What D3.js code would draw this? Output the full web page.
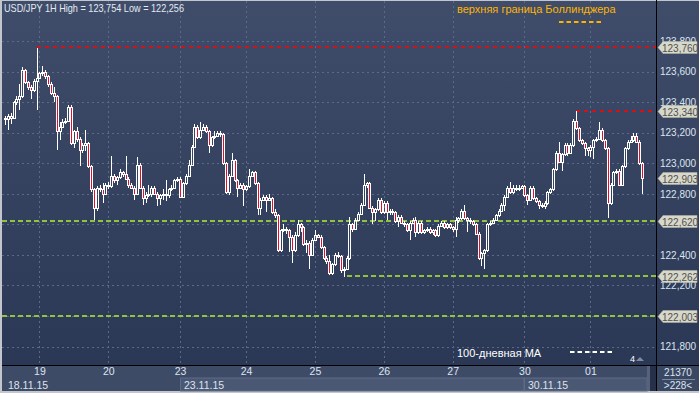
<!DOCTYPE html>
<html>
<head>
<meta charset="utf-8">
<script src="https://cdn.jsdelivr.net/npm/d3@7"></script>
<style>
  body { margin: 0; background: #c3c6cc; }
  svg { display: block; font-family: "Liberation Sans", Arial, sans-serif; }
</style>
</head>
<body>
<div id="chart"></div>
<script>
// USD/JPY 1H candles, [open, high, low, close]
var candles = [
  [123.30,123.31,123.25,123.29],[123.29,123.32,123.22,123.31],[123.31,123.33,123.26,123.30],[123.30,123.41,123.29,123.40],
  [123.40,123.44,123.38,123.42],[123.42,123.52,123.35,123.44],[123.44,123.63,123.43,123.61],[123.61,123.62,123.52,123.53],
  [123.53,123.54,123.48,123.50],[123.50,123.51,123.42,123.48],[123.48,123.55,123.47,123.54],[123.54,123.754,123.35,123.56],
  [123.56,123.60,123.55,123.59],[123.59,123.64,123.57,123.60],[123.60,123.61,123.55,123.57],[123.57,123.58,123.50,123.52],
  [123.52,123.53,123.45,123.46],[123.46,123.50,123.40,123.44],[123.44,123.45,123.09,123.21],[123.21,123.27,123.15,123.24],
  [123.24,123.29,123.23,123.27],[123.27,123.30,123.26,123.28],[123.28,123.38,123.27,123.37],[123.37,123.38,123.12,123.13],
  [123.13,123.22,123.10,123.21],[123.21,123.24,123.14,123.16],[123.16,123.17,122.98,123.09],[123.09,123.13,123.07,123.12],
  [123.12,123.22,123.08,123.13],[123.13,123.14,122.97,122.98],[122.98,122.99,122.81,122.83],[122.83,122.84,122.63,122.71],
  [122.71,122.85,122.69,122.84],[122.84,122.86,122.81,122.83],[122.83,122.87,122.74,122.80],[122.80,122.87,122.79,122.86],
  [122.86,122.88,122.83,122.85],[122.85,123.05,122.84,122.92],[122.92,122.93,122.87,122.89],[122.89,122.92,122.86,122.91],
  [122.91,122.96,122.90,122.94],[122.94,122.95,122.91,122.93],[122.93,123.05,122.89,122.90],[122.90,122.91,122.84,122.86],
  [122.86,122.87,122.83,122.84],[122.84,122.85,122.76,122.80],[122.80,123.04,122.79,122.99],[122.99,123.00,122.83,122.84],
  [122.84,122.85,122.73,122.77],[122.77,122.81,122.74,122.79],[122.79,122.86,122.78,122.80],[122.80,122.85,122.78,122.84],
  [122.84,122.85,122.79,122.80],[122.80,122.81,122.72,122.77],[122.77,122.80,122.73,122.79],[122.79,122.83,122.76,122.80],
  [122.80,122.89,122.75,122.79],[122.79,122.84,122.77,122.83],[122.83,122.86,122.82,122.84],[122.84,122.90,122.83,122.89],
  [122.89,122.91,122.88,122.90],[122.90,122.91,122.77,122.78],[122.78,122.88,122.77,122.87],[122.87,122.93,122.86,122.92],
  [122.92,123.02,122.91,122.99],[122.99,123.12,122.98,123.11],[123.11,123.26,123.10,123.24],[123.24,123.25,123.16,123.17],
  [123.17,123.27,123.16,123.22],[123.22,123.26,123.21,123.24],[123.24,123.25,123.20,123.21],[123.21,123.22,123.07,123.12],
  [123.12,123.18,123.11,123.17],[123.17,123.21,123.16,123.18],[123.18,123.21,123.17,123.20],[123.20,123.21,123.17,123.19],
  [123.19,123.20,122.99,123.00],[123.00,123.01,122.80,122.81],[122.81,122.93,122.79,122.92],[122.92,123.07,122.91,123.02],
  [123.02,123.03,122.88,122.89],[122.89,122.90,122.78,122.84],[122.84,122.87,122.83,122.86],[122.86,122.87,122.72,122.83],
  [122.83,122.86,122.82,122.85],[122.85,122.96,122.84,122.92],[122.92,122.95,122.91,122.94],[122.94,122.95,122.86,122.87],
  [122.87,122.88,122.66,122.71],[122.71,122.77,122.66,122.76],[122.76,122.79,122.75,122.78],[122.78,122.79,122.68,122.76],
  [122.76,122.80,122.75,122.77],[122.77,122.78,122.67,122.68],[122.68,122.70,122.64,122.66],[122.66,122.67,122.42,122.43],
  [122.43,122.57,122.42,122.56],[122.56,122.60,122.55,122.57],[122.57,122.58,122.54,122.56],[122.56,122.57,122.42,122.52],
  [122.52,122.53,122.35,122.43],[122.43,122.55,122.42,122.53],[122.53,122.63,122.52,122.60],[122.60,122.61,122.55,122.58],
  [122.58,122.59,122.46,122.47],[122.47,122.50,122.41,122.48],[122.48,122.49,122.31,122.40],[122.40,122.51,122.39,122.50],
  [122.50,122.56,122.49,122.53],[122.53,122.54,122.51,122.52],[122.52,122.53,122.44,122.45],[122.45,122.46,122.37,122.38],
  [122.38,122.39,122.34,122.36],[122.36,122.40,122.27,122.28],[122.28,122.35,122.27,122.34],[122.34,122.41,122.33,122.40],
  [122.40,122.42,122.38,122.39],[122.39,122.40,122.28,122.30],[122.30,122.32,122.256,122.31],[122.31,122.39,122.30,122.38],
  [122.38,122.65,122.37,122.60],[122.60,122.61,122.55,122.57],[122.57,122.64,122.56,122.63],[122.63,122.68,122.62,122.67],
  [122.67,122.74,122.66,122.73],[122.73,122.93,122.72,122.86],[122.86,122.88,122.84,122.87],[122.87,122.88,122.70,122.71],
  [122.71,122.72,122.60,122.68],[122.68,122.71,122.62,122.70],[122.70,122.77,122.69,122.76],[122.76,122.77,122.67,122.68],
  [122.68,122.75,122.67,122.74],[122.74,122.75,122.63,122.68],[122.68,122.70,122.66,122.69],[122.69,122.70,122.66,122.68],
  [122.68,122.69,122.61,122.62],[122.62,122.66,122.58,122.65],[122.65,122.66,122.60,122.61],[122.61,122.62,122.58,122.60],
  [122.60,122.61,122.55,122.56],[122.56,122.62,122.50,122.61],[122.61,122.64,122.60,122.63],[122.63,122.65,122.52,122.55],
  [122.55,122.62,122.54,122.61],[122.61,122.62,122.54,122.55],[122.55,122.57,122.54,122.56],[122.56,122.58,122.55,122.57],
  [122.57,122.58,122.54,122.55],[122.55,122.57,122.53,122.56],[122.56,122.57,122.52,122.53],[122.53,122.60,122.52,122.59],
  [122.59,122.62,122.58,122.61],[122.61,122.62,122.57,122.58],[122.58,122.61,122.57,122.60],[122.60,122.61,122.57,122.58],
  [122.58,122.59,122.55,122.57],[122.57,122.65,122.52,122.63],[122.63,122.65,122.61,122.64],[122.64,122.70,122.63,122.69],
  [122.69,122.73,122.63,122.64],[122.64,122.65,122.55,122.63],[122.63,122.64,122.60,122.62],[122.62,122.63,122.59,122.60],
  [122.60,122.61,122.53,122.54],[122.54,122.55,122.37,122.38],[122.38,122.42,122.33,122.41],[122.41,122.44,122.31,122.43],
  [122.43,122.61,122.42,122.60],[122.60,122.62,122.59,122.61],[122.61,122.64,122.60,122.63],[122.63,122.67,122.62,122.66],
  [122.66,122.70,122.65,122.69],[122.69,122.74,122.68,122.73],[122.73,122.79,122.69,122.78],[122.78,122.85,122.77,122.84],
  [122.84,122.88,122.80,122.81],[122.81,122.86,122.80,122.84],[122.84,122.86,122.82,122.83],[122.83,122.86,122.82,122.84],
  [122.84,122.86,122.83,122.85],[122.85,122.86,122.78,122.79],[122.79,122.80,122.73,122.76],[122.76,122.85,122.75,122.84],
  [122.84,122.85,122.76,122.77],[122.77,122.78,122.74,122.75],[122.75,122.76,122.70,122.73],[122.73,122.74,122.71,122.72],
  [122.72,122.75,122.70,122.74],[122.74,122.82,122.73,122.81],[122.81,122.84,122.80,122.83],[122.83,122.97,122.82,122.96],
  [122.96,123.08,122.95,123.07],[123.07,123.14,123.00,123.01],[123.01,123.07,122.95,123.06],[123.06,123.13,123.05,123.12],
  [123.12,123.13,123.05,123.07],[123.07,123.13,123.06,123.12],[123.12,123.29,123.11,123.28],[123.28,123.34,123.22,123.23],
  [123.23,123.24,123.14,123.15],[123.15,123.16,123.12,123.13],[123.13,123.14,123.05,123.10],[123.10,123.11,123.05,123.09],
  [123.09,123.12,123.04,123.11],[123.11,123.16,123.03,123.15],[123.15,123.17,123.14,123.16],[123.16,123.27,123.15,123.22],
  [123.22,123.23,123.14,123.15],[123.15,123.16,123.09,123.10],[123.10,123.11,122.64,122.74],[122.74,122.87,122.73,122.86],
  [122.86,122.95,122.85,122.94],[122.94,122.96,122.93,122.95],[122.95,122.96,122.85,122.86],[122.86,122.99,122.85,122.98],
  [122.98,123.11,122.97,123.10],[123.10,123.15,123.09,123.14],[123.14,123.18,123.13,123.15],[123.15,123.20,123.14,123.18],
  [123.18,123.20,123.13,123.14],[123.14,123.15,122.99,123.00],[123.00,123.01,122.80,122.903]
];

var dayIdx = [12, 36, 61, 84, 108, 132, 156, 181, 204];
var dayLabels = ["19", "20", "23", "24", "25", "26", "27", "30", "01"];
var weekIdx = [0, 61, 181];
var weekLabels = ["18.11.15", "23.11.15", "30.11.15"];
var gridTicks = [121.8, 122.0, 122.2, 122.4, 122.6, 122.8, 123.0, 123.2, 123.4, 123.6, 123.8];
// labels that stay visible beside the tags
var priceLabels = [121.8, 122.2, 122.4, 122.8, 123.0, 123.2, 123.4, 123.6, 123.8];

// support / resistance levels and the bar they start from
var levelPrices = [123.760, 123.340, 122.620, 122.262, 122.003];
var levelFrom = [11, 199, -2, 119, -2];
var levelKind = ["red", "red", "green", "green", "green"];

var legendNames = ["верхняя граница Боллинджера", "100-дневная МА"];
var barsTotal = "21370";
var barsVisible = ">228<";

var W = 699, H = 393;
var plot = { left: 2, right: 656, top: 1, bottom: 365 };

var fmt = function (v) { return d3.format(".3f")(v).replace(".", ","); };

var x = d3.scaleLinear().domain([0, candles.length - 1]).range([5, 642.1]);
var y = d3.scaleLinear().domain([122.0, 123.6]).range([316.0, 71.7]);

var svg = d3.select("#chart").append("svg")
  .attr("width", W)
  .attr("height", H);

var defs = svg.append("defs");
var grad = defs.append("linearGradient").attr("id", "bg")
  .attr("x1", 0).attr("y1", 0).attr("x2", 0).attr("y2", 1);
grad.append("stop").attr("offset", "0%").attr("stop-color", "#3f4d6a");
grad.append("stop").attr("offset", "100%").attr("stop-color", "#2b3855");

// frame + panels
svg.append("rect").attr("width", W).attr("height", H).attr("fill", "#c3c6cc");
svg.append("rect").attr("x", plot.left).attr("y", plot.top)
  .attr("width", plot.right - plot.left).attr("height", plot.bottom - plot.top)
  .attr("fill", "url(#bg)");
svg.append("rect").attr("x", plot.right + 1).attr("y", plot.top)
  .attr("width", W - plot.right - 1).attr("height", plot.bottom - plot.top)
  .attr("fill", "url(#bg)");

// bottom strip
svg.append("rect").attr("x", plot.left).attr("y", 366).attr("width", plot.right - plot.left).attr("height", 25).attr("fill", "#3e4b67");
svg.append("rect").attr("x", plot.right + 1).attr("y", 366).attr("width", W - plot.right - 1).attr("height", 25).attr("fill", "#3a4763");

var weekG = svg.append("g");
weekIdx.forEach(function (d, i) {
  if (i === 0) return;
  var x0 = Math.round(x(d)) + 0.5;
  var x1 = i < weekIdx.length - 1 ? Math.round(x(weekIdx[i + 1])) : 647;
  weekG.append("rect").attr("x", x0).attr("y", 378).attr("width", x1 - x0).attr("height", 13)
    .attr("fill", "#4b5874").attr("stroke", "#5e6b88").attr("stroke-width", 1);
});
weekIdx.forEach(function (d, i) {
  weekG.append("text")
    .attr("x", i === 0 ? 8 : Math.round(x(d)) + 4)
    .attr("y", 389)
    .attr("fill", "#dde3ee").attr("font-size", "10.5px")
    .text(weekLabels[i]);
});
svg.append("rect").attr("x", 647).attr("y", 366).attr("width", 3).attr("height", 25).attr("fill", "#56627c");
svg.append("rect").attr("x", 650).attr("y", 366).attr("width", 6).attr("height", 25).attr("fill", "#263149");

// grid
var grid = svg.append("g").attr("stroke", "#5c6a88").attr("stroke-width", 1).attr("stroke-dasharray", "2,3");
grid.selectAll("line.h").data(gridTicks).enter().append("line")
  .attr("x1", plot.left).attr("x2", plot.right)
  .attr("y1", function (d) { return Math.round(y(d)) + 0.5; })
  .attr("y2", function (d) { return Math.round(y(d)) + 0.5; });
grid.selectAll("line.v").data(dayIdx).enter().append("line")
  .attr("y1", plot.top).attr("y2", plot.bottom)
  .attr("x1", function (d) { return Math.round(x(d)) + 0.5; })
  .attr("x2", function (d) { return Math.round(x(d)) + 0.5; });

// levels
var levelColor = { red: "#d4101c", green: "#8fc43f" };
var levelDash = { red: "4,4", green: "5,3" };
svg.append("g").attr("shape-rendering", "crispEdges")
  .selectAll("line").data(levelPrices).enter().append("line")
  .attr("x1", function (d, i) { return Math.max(plot.left, x(levelFrom[i])); })
  .attr("x2", plot.right)
  .attr("y1", function (d) { return Math.round(y(d)); })
  .attr("y2", function (d) { return Math.round(y(d)); })
  .attr("stroke", function (d, i) { return levelColor[levelKind[i]]; })
  .attr("stroke-width", 2)
  .attr("stroke-dasharray", function (d, i) { return levelDash[levelKind[i]]; });

// candles
var cg = svg.append("g").attr("shape-rendering", "crispEdges");
candles.forEach(function (c, i) {
  var cx = Math.round(x(i));
  var top = Math.round(y(Math.max(c[0], c[3])));
  var bot = Math.round(y(Math.min(c[0], c[3])));
  var hi = Math.round(y(c[1]));
  var lo = Math.round(y(c[2]));
  if (bot - top < 1) bot = top + 1;
  cg.append("rect").attr("x", cx).attr("y", hi).attr("width", 1).attr("height", Math.max(0, top - hi)).attr("fill", "#fff");
  cg.append("rect").attr("x", cx).attr("y", bot).attr("width", 1).attr("height", Math.max(0, lo - bot)).attr("fill", "#fff");
  cg.append("rect")
    .attr("x", cx - 0.5).attr("y", top + 0.5)
    .attr("width", 2).attr("height", bot - top)
    .attr("fill", c[3] < c[0] ? "#e0102c" : "none")
    .attr("stroke", "#fff").attr("stroke-width", 1);
});

// separators
svg.append("line").attr("x1", plot.right + 0.5).attr("x2", plot.right + 0.5).attr("y1", 0).attr("y2", 391).attr("stroke", "#000");
svg.append("line").attr("x1", plot.left).attr("x2", W).attr("y1", 365.5).attr("y2", 365.5).attr("stroke", "#000");

// price axis on the right
var yAxis = d3.axisRight(y).tickValues(priceLabels).tickFormat(fmt).tickSize(0).tickPadding(3);
var ya = svg.append("g").attr("transform", "translate(" + (plot.right + 1) + ",0)").call(yAxis);
ya.select(".domain").remove();
ya.selectAll("text").attr("fill", "#dde4f0").attr("font-size", "10px")
  .attr("font-family", "Liberation Sans, Arial, sans-serif");

// price tags
var tags = levelPrices.concat([candles[candles.length - 1][3]]);
var tg = svg.append("g");
tags.forEach(function (p) {
  var ty = Math.round(y(p));
  tg.append("path")
    .attr("d", "M658," + (ty + 0.5) + "L663," + (ty - 5.5) + "L697," + (ty - 5.5) + "L697," + (ty + 6.5) + "L663," + (ty + 6.5) + "Z")
    .attr("fill", "#d8d8ca").attr("stroke", "#b8b8aa").attr("stroke-width", 0.5);
  tg.append("text").attr("x", 662).attr("y", ty + 4.5)
    .attr("fill", "#505050").attr("font-size", "10px")
    .text(fmt(p));
});

// bottom day axis
var xAxis = d3.axisBottom(x).tickValues(dayIdx)
  .tickFormat(function (d, i) { return dayLabels[i]; })
  .tickSize(0).tickPadding(2);
var xa = svg.append("g").attr("transform", "translate(0,366)").call(xAxis);
xa.select(".domain").remove();
xa.selectAll("text").attr("fill", "#dde4f0").attr("font-size", "10.5px")
  .attr("font-family", "Liberation Sans, Arial, sans-serif");

// bar counter
svg.append("text").attr("x", 678).attr("y", 376).attr("text-anchor", "middle")
  .attr("fill", "#dde4f0").attr("font-size", "10px").text(barsTotal);
svg.append("line").attr("x1", 662).attr("x2", 695).attr("y1", 379.5).attr("y2", 379.5).attr("stroke", "#7d8aa3");
svg.append("text").attr("x", 678).attr("y", 389).attr("text-anchor", "middle")
  .attr("fill", "#dde4f0").attr("font-size", "10px").text(barsVisible);

// title
var hiVal = d3.max(candles, function (d) { return d[1]; });
var loVal = d3.min(candles, function (d) { return d[2]; });
svg.append("text").attr("x", 4).attr("y", 12)
  .attr("fill", "#e4eaf2").attr("font-size", "11px")
  .attr("textLength", 180).attr("lengthAdjust", "spacingAndGlyphs")
  .text("USD/JPY 1H High = " + fmt(hiVal) + " Low = " + fmt(loVal));

// legend
svg.append("text").attr("x", 457).attr("y", 13)
  .attr("fill", "#ffb400").attr("font-size", "11px").text(legendNames[0]);
svg.append("line").attr("x1", 559).attr("x2", 604).attr("y1", 22).attr("y2", 22)
  .attr("stroke", "#ffb400").attr("stroke-width", 2).attr("stroke-dasharray", "4.5,3");
svg.append("text").attr("x", 457).attr("y", 357)
  .attr("fill", "#ffffff").attr("font-size", "11px").text(legendNames[1]);
svg.append("line").attr("x1", 570).attr("x2", 615).attr("y1", 352).attr("y2", 352)
  .attr("stroke", "#ffffff").attr("stroke-width", 2).attr("stroke-dasharray", "4.5,3");
svg.append("text").attr("x", 630).attr("y", 362)
  .attr("fill", "#ffffff").attr("font-size", "9px").text("4");
svg.append("path").attr("d", "M636,361L640,357L644,361Z").attr("fill", "#7d8aa3");
</script>
</body>
</html>
